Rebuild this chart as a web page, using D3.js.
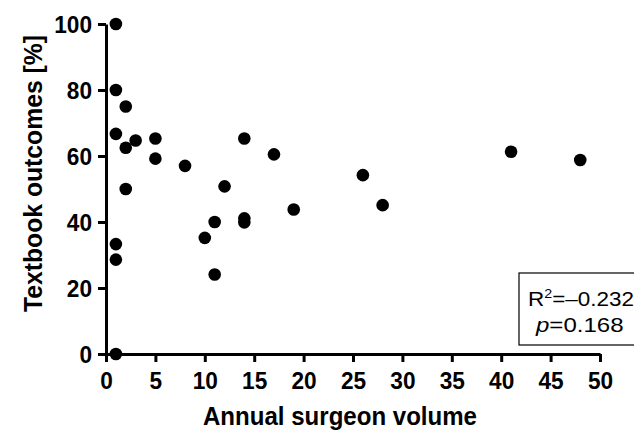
<!DOCTYPE html>
<html>
<head>
<meta charset="utf-8">
<script src="https://cdn.jsdelivr.net/npm/d3@7"></script>
<style>
  body { margin: 0; background: #fff; }
  svg { font-family: "Liberation Sans", Arial, sans-serif; }
</style>
</head>
<body>
<svg id="chart"></svg>
<script>
// Annual surgeon volume vs textbook outcome rate
const volume = [1, 1, 1, 1, 1, 1, 2, 2, 2, 3, 5, 5, 8, 10, 11, 11, 12, 14, 14, 14, 17, 19, 26, 28, 41, 48];
const outcome = [100, 80, 66.7, 33.3, 28.6, 0, 75, 62.5, 50, 64.7, 65.3, 59.2, 57, 35.2, 40, 24.1, 50.8, 65.3, 41.1, 39.9, 60.5, 43.8, 54.2, 45.1, 61.3, 58.8];
const xTicks = [0, 5, 10, 15, 20, 25, 30, 35, 40, 45, 50];
const yTicks = [0, 20, 40, 60, 80, 100];

const W = 634, H = 430;
const margin = {top: 24, right: 34, bottom: 76, left: 106};

const svg = d3.select('#chart').attr('width', W).attr('height', H);

const x = d3.scaleLinear().domain([0, 50]).range([margin.left, W - margin.right]);
const y = d3.scaleLinear().domain([0, 100]).range([H - margin.bottom, margin.top]);

// Axes
const xAxis = svg.append('g')
    .attr('transform', `translate(0,${H - margin.bottom})`)
    .call(d3.axisBottom(x).tickValues(xTicks).tickSize(8).tickSizeOuter(0).tickPadding(10));

const yAxis = svg.append('g')
    .attr('transform', `translate(${margin.left},0)`)
    .call(d3.axisLeft(y).tickValues(yTicks).tickSize(8).tickSizeOuter(0).tickPadding(6));

[xAxis, yAxis].forEach(g => {
    g.select('.domain').attr('stroke', '#000').attr('stroke-width', 3);
    g.selectAll('.tick line').attr('stroke', '#000').attr('stroke-width', 3);
    g.selectAll('.tick text')
        .attr('fill', '#000')
        .style('font-size', '24px')
        .style('font-weight', 'bold')
        .style('font-family', '"Liberation Sans", Arial, sans-serif')
        .attr('textLength', function() { return this.textContent.length * 12.6; })
        .attr('lengthAdjust', 'spacingAndGlyphs');
});
yAxis.selectAll('.tick text').attr('dy', '0.36em');
xAxis.selectAll('.tick text').attr('dy', '0.72em');

// Axis titles
svg.append('text')
    .attr('x', 203)
    .attr('y', 425)
    .attr('textLength', 274)
    .attr('lengthAdjust', 'spacingAndGlyphs')
    .style('font-size', '26px')
    .style('font-weight', 'bold')
    .text('Annual surgeon volume');

svg.append('text')
    .attr('transform', `translate(42,312) rotate(-90)`)
    .attr('textLength', 277)
    .attr('lengthAdjust', 'spacingAndGlyphs')
    .style('font-size', '26px')
    .style('font-weight', 'bold')
    .text('Textbook outcomes [%]');

// Points
svg.append('g')
    .selectAll('circle')
    .data(volume.map((v, i) => ({v, o: outcome[i]})))
    .enter().append('circle')
    .attr('cx', d => x(d.v))
    .attr('cy', d => y(d.o))
    .attr('r', 6.3)
    .attr('fill', '#000');

// Stats box (runs off the right edge, as in the original)
const box = svg.append('g').attr('transform', 'translate(519,273)');
box.append('rect')
    .attr('width', 130).attr('height', 72)
    .attr('fill', '#fff').attr('stroke', '#000').attr('stroke-width', 1.2);

const r2 = box.append('text').attr('x', 9).attr('y', 32.5)
    .attr('textLength', 106).attr('lengthAdjust', 'spacingAndGlyphs')
    .style('font-size', '20.5px');
r2.append('tspan').text('R');
r2.append('tspan').attr('dy', -8).style('font-size', '13px').text('2');
r2.append('tspan').attr('dy', 8).text('=\u20130.232');

const pv = box.append('text').attr('x', 17).attr('y', 58.5)
    .attr('textLength', 87.5).attr('lengthAdjust', 'spacingAndGlyphs')
    .style('font-size', '20.5px');
pv.append('tspan').style('font-style', 'italic').text('p');
pv.append('tspan').text('=0.168');
</script>
</body>
</html>
